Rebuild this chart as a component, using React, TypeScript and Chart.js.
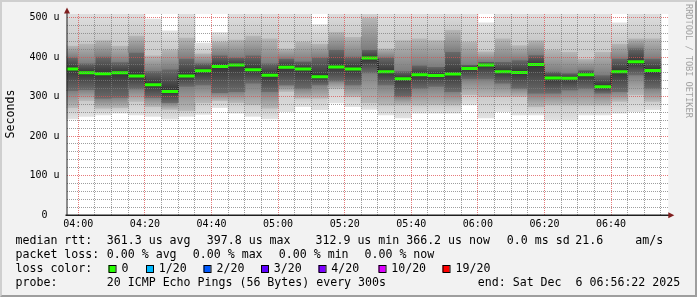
import React, { useEffect, useRef } from "react";
import { Chart, registerables } from "chart.js";

Chart.register(...registerables);

// ---- data ----
const slotStarts = [
  "03:55", "04:00", "04:05", "04:10", "04:15", "04:20", "04:25", "04:30", "04:35",
  "04:40", "04:45", "04:50", "04:55", "05:00", "05:05", "05:10", "05:15", "05:20",
  "05:25", "05:30", "05:35", "05:40", "05:45", "05:50", "05:55", "06:00", "06:05",
  "06:10", "06:15", "06:20", "06:25", "06:30", "06:35", "06:40", "06:45", "06:50",
];
const medianRtt = [
  370, 360, 358, 360, 352, 330, 313, 352, 365, 376, 380, 368, 354, 374, 370, 350, 375, 370,
  397.8, 363, 345, 355, 353, 357, 371, 380, 363, 361, 381, 347, 346, 355, 325, 363, 388, 366.2,
];
const pingMin = [
  244, 250, 254, 258, 254, 250, 243, 250, 255, 272, 258, 250, 244, 262, 275, 267, 284, 275,
  268, 254, 246, 258, 258, 258, 279, 246, 262, 254, 254, 241, 241, 254, 254, 258, 262, 267,
];
const pingLow2 = [
  272, 290, 271, 272, 288, 275, 268, 265, 285, 290, 285, 280, 271, 313, 296, 296, 321, 300,
  285, 279, 279, 279, 280, 279, 305, 300, 300, 300, 275, 279, 279, 279, 279, 288, 305, 288,
];
const pingLow1 = [
  315, 318, 296, 298, 320, 298, 285, 326, 330, 310, 313, 334, 313, 330, 321, 330, 340, 330,
  360, 330, 300, 321, 326, 313, 345, 345, 334, 321, 309, 309, 317, 321, 309, 313, 355, 321,
];
const pingHigh1 = [
  400, 385, 402, 388, 412, 365, 370, 397, 385, 405, 400, 405, 385, 397, 390, 400, 420, 402,
  420, 400, 365, 380, 376, 414, 381, 389, 389, 393, 406, 364, 360, 368, 355, 397, 423, 397,
];
const pingHigh2 = [
  430, 435, 444, 430, 455, 405, 420, 450, 410, 440, 445, 455, 448, 423, 440, 435, 465, 452,
  500, 423, 444, 448, 444, 470, 440, 415, 448, 431, 444, 419, 414, 397, 414, 435, 448, 448,
];
const pingMax = [
  520, 520, 520, 520, 520, 496, 466, 520, 435, 462, 520, 520, 520, 520, 520, 482, 520, 520,
  520, 520, 520, 520, 520, 520, 520, 486, 520, 520, 520, 520, 520, 520, 520, 486, 520, 520,
];
const yTickValues = [0, 100, 200, 300, 400, 500];
const xTickLabels = ["04:00", "04:20", "04:40", "05:00", "05:20", "05:40", "06:00", "06:20", "06:40"];
const lossLabels = ["0", "1/20", "2/20", "3/20", "4/20", "10/20", "19/20"];
const lossColors = ["#26ff00", "#00b8ff", "#0059ff", "#5e00ff", "#7e00ff", "#dd00ff", "#ff0000"];

// ---- look ----
const W = 697;
const H = 297;
const MONO = "DejaVu Sans Mono";
const GRID_MINOR = "rgba(125,125,125,0.75)";
const GRID_MAJOR = "rgba(222,79,79,0.75)";

const toMin = (s: string) => {
  const [h, m] = s.split(":").map(Number);
  return (h - 4) * 60 + m;
};
const fmt = (v: number) => {
  const r = Math.round(v);
  const h = 4 + Math.floor(r / 60);
  const m = ((r % 60) + 60) % 60;
  return String(h).padStart(2, "0") + ":" + String(m).padStart(2, "0");
};

const X_TICKS: number[] = [];
for (let v = 0; v <= 175; v += 5) X_TICKS.push(v);
const Y_TICKS: number[] = [];
for (let v = 0; v <= 500; v += 20) Y_TICKS.push(v);

// vertical gradient fill for a floating bar; stops run bottom (0) -> top (1)
const gradFill = (stopsFor: (i: number, lo: number, hi: number) => [number, string][]) => (c: any) => {
  const fallback = stopsFor(0, 0, 1)[0][1];
  if (c.type !== "data" || !c.raw) return fallback;
  const ys = c.chart.scales.y;
  if (!ys) return fallback;
  const [lo, hi] = c.raw.y;
  const p0 = ys.getPixelForValue(lo);
  const p1 = ys.getPixelForValue(hi);
  if (!isFinite(p0) || !isFinite(p1) || Math.abs(p0 - p1) < 0.01) return fallback;
  const g = c.chart.ctx.createLinearGradient(0, p0, 0, p1);
  stopsFor(c.dataIndex, lo, hi).forEach(([p, col]) => g.addColorStop(Math.min(1, Math.max(0, p)), col));
  return g;
};

const rrdPlugin = {
  id: "rrdFrame",
  beforeDraw(chart: any) {
    const ctx = chart.ctx;
    const { left, top, right, bottom } = chart.chartArea;
    ctx.save();
    ctx.fillStyle = "#f2f2f2";
    ctx.fillRect(0, 0, W, H);
    ctx.fillStyle = "#cfcfcf";
    ctx.fillRect(0, 0, W, 2);
    ctx.fillRect(0, 0, 2, H);
    ctx.fillStyle = "#9e9e9e";
    ctx.beginPath();
    ctx.moveTo(W, 0);
    ctx.lineTo(W, H);
    ctx.lineTo(0, H);
    ctx.lineTo(2, H - 2);
    ctx.lineTo(W - 2, H - 2);
    ctx.lineTo(W - 2, 2);
    ctx.closePath();
    ctx.fill();
    ctx.fillStyle = "#ffffff";
    ctx.fillRect(left, top, right - left, bottom - top);
    ctx.restore();
  },
  afterDatasetsDraw(chart: any) {
    const ctx = chart.ctx;
    const { left, top, right, bottom } = chart.chartArea;
    const xs = chart.scales.x;
    const ys = chart.scales.y;
    const x0 = Math.ceil(left);
    const x1 = Math.floor(right);
    const y0 = Math.ceil(top);
    const y1 = Math.floor(bottom);
    ctx.save();
    for (const major of [false, true]) {
      ctx.fillStyle = major ? GRID_MAJOR : GRID_MINOR;
      for (const v of Y_TICKS) {
        if (v === 0 || yTickValues.includes(v) !== major) continue;
        const py = Math.floor(ys.getPixelForValue(v));
        for (let px = x0; px < x1; px += 2) ctx.fillRect(px, py, 1, 1);
      }
      for (const v of X_TICKS) {
        if (xTickLabels.includes(fmt(v)) !== major) continue;
        const px = Math.floor(xs.getPixelForValue(v));
        if (px < left || px > right) continue;
        for (let py = y0; py < y1; py += 2) ctx.fillRect(px, py, 1, 1);
      }
    }
    ctx.restore();
  },
  afterDraw(chart: any) {
    const ctx = chart.ctx;
    const { left, top, right, bottom } = chart.chartArea;
    ctx.save();
    // axes
    ctx.strokeStyle = "#1f1f1f";
    ctx.lineWidth = 1;
    ctx.beginPath();
    ctx.moveTo(67, bottom);
    ctx.lineTo(67, top - 1);
    ctx.stroke();
    ctx.lineWidth = 1.6;
    ctx.beginPath();
    ctx.moveTo(left - 1, 215.3);
    ctx.lineTo(right + 2, 215.3);
    ctx.stroke();
    // arrows
    ctx.fillStyle = "#801f1f";
    ctx.beginPath();
    ctx.moveTo(64, 13.5);
    ctx.lineTo(70, 13.5);
    ctx.lineTo(67, 7.5);
    ctx.closePath();
    ctx.fill();
    ctx.beginPath();
    ctx.moveTo(right, 212.3);
    ctx.lineTo(right, 218.3);
    ctx.lineTo(right + 6, 215.3);
    ctx.closePath();
    ctx.fill();

    // y title
    ctx.fillStyle = "#000";
    ctx.font = `11.6px "${MONO}"`;
    ctx.save();
    ctx.translate(11, 114);
    ctx.rotate(-Math.PI / 2);
    ctx.textAlign = "center";
    ctx.textBaseline = "middle";
    ctx.fillText("Seconds", 0, 0);
    ctx.restore();

    // watermark
    ctx.save();
    ctx.translate(688.5, 4);
    ctx.rotate(Math.PI / 2);
    ctx.textAlign = "left";
    ctx.textBaseline = "middle";
    ctx.fillStyle = "rgba(0,0,0,0.35)";
    ctx.font = `8.6px "${MONO}"`;
    ctx.fillText("RRDTOOL / TOBI OETIKER", 0, 0);
    ctx.restore();

    // legend rows
    ctx.fillStyle = "#000";
    ctx.font = `11.6px "${MONO}"`;
    ctx.textAlign = "left";
    ctx.textBaseline = "middle";
    const rows: [number, number, string][] = [
      [241, 15.5, "median rtt:"],
      [241, 106.8, "361.3 us avg"],
      [241, 206.8, "397.8 us max"],
      [241, 315.5, "312.9 us min"],
      [241, 406.2, "366.2 us now"],
      [241, 506.8, "0.0 ms sd"],
      [241, 575.2, "21.6"],
      [241, 635.2, "am/s"],
      [255, 15.5, "packet loss:"],
      [255, 106.8, "0.00 % avg"],
      [255, 192.8, "0.00 % max"],
      [255, 278.8, "0.00 % min"],
      [255, 364.5, "0.00 % now"],
      [269, 15.5, "loss color:"],
      [283.3, 15.5, "probe:"],
      [283.3, 106.8, "20 ICMP Echo Pings (56 Bytes) every 300s"],
      [283.3, 477.8, "end: Sat Dec  6 06:56:22 2025"],
    ];
    rows.forEach(([y, x, t]) => ctx.fillText(t, x, y));
    const sqX = [108.5, 146, 203.5, 261, 318.5, 378.5, 442.5];
    const lbX = [121.5, 158.8, 216.5, 273.8, 331.2, 391.2, 455.5];
    lossLabels.forEach((lab, i) => {
      ctx.fillStyle = lossColors[i];
      ctx.fillRect(sqX[i], 265, 7, 7);
      ctx.strokeStyle = "#000";
      ctx.lineWidth = 1;
      ctx.strokeRect(sqX[i] + 0.5, 265.5, 7, 7);
      ctx.fillStyle = "#000";
      ctx.fillText(lab, lbX[i], 269);
    });
    ctx.restore();
  },
};

export default function App() {
  const ref = useRef<HTMLCanvasElement>(null);
  useEffect(() => {
    const canvas = ref.current;
    if (!canvas) return;
    const xs = slotStarts.map((s) => toMin(s) + 2.5);
    const band = (lo: number[], hi: number[]) => xs.map((x, i) => ({ x, y: [lo[i], hi[i]] }));
    const barBase: any = {
      type: "bar",
      grouped: false,
      barPercentage: 1,
      categoryPercentage: 1,
      borderWidth: 0,
      inflateAmount: 0.5,
    };
    const medLo = medianRtt.map((m) => m - 3.8);
    const medHi = medianRtt.map((m) => m + 3.8);

    const outerLow = gradFill(() => [[0, "#e2e2e2"], [1, "#c9c9c9"]]);
    const midLow = gradFill(() => [[0, "#b8b8b8"], [1, "#7e7e7e"]]);
    const core = gradFill((i, lo, hi) => [
      [0, "#6a6a6a"],
      [(medianRtt[i] - lo) / (hi - lo), "#343434"],
      [1, "#6a6a6a"],
    ]);
    const midHigh = gradFill(() => [[0, "#7e7e7e"], [1, "#b8b8b8"]]);
    const outerHigh = gradFill(() => [[0, "#c9c9c9"], [1, "#e2e2e2"]]);

    const chart = new Chart(canvas, {
      data: {
        datasets: [
          { ...barBase, label: "min", data: band(pingMin, pingLow2), backgroundColor: outerLow, order: 10 },
          { ...barBase, label: "low", data: band(pingLow2, pingLow1), backgroundColor: midLow, order: 9 },
          { ...barBase, label: "core", data: band(pingLow1, pingHigh1), backgroundColor: core, order: 8 },
          { ...barBase, label: "high", data: band(pingHigh1, pingHigh2), backgroundColor: midHigh, order: 7 },
          { ...barBase, label: "max", data: band(pingHigh2, pingMax), backgroundColor: outerHigh, order: 6 },
          {
            type: "line",
            label: "step",
            data: xs.map((x, i) => ({ x, y: medianRtt[i] })),
            stepped: "middle",
            borderColor: "#000",
            borderWidth: 1,
            borderDash: [1, 1],
            pointRadius: 0,
            order: 2,
          },
          { ...barBase, label: "median", data: band(medLo, medHi), backgroundColor: lossColors[0], inflateAmount: 0, order: 1 },
        ] as any,
      },
      options: {
        responsive: false,
        animation: false,
        devicePixelRatio: 1,
        layout: { padding: { left: 0, top: 14, right: 28.7, bottom: 0 } },
        plugins: { legend: { display: false }, tooltip: { enabled: false } },
        scales: {
          x: {
            type: "linear",
            min: -3.55,
            max: 177.2,
            offset: false,
            border: { display: false },
            afterBuildTicks: (s: any) => {
              s.ticks = X_TICKS.map((v) => ({ value: v }));
            },
            afterFit: (s: any) => {
              s.height = 82;
            },
            grid: { display: false, offset: false, drawTicks: false },
            ticks: {
              autoSkip: false,
              maxRotation: 0,
              padding: 3,
              color: "#000",
              font: { family: MONO, size: 10 },
              callback: (v: any) => (xTickLabels.includes(fmt(Number(v))) ? fmt(Number(v)) : ""),
            },
          },
          y: {
            type: "linear",
            min: 0,
            max: 509,
            border: { display: false },
            afterBuildTicks: (s: any) => {
              s.ticks = Y_TICKS.map((v) => ({ value: v }));
            },
            afterFit: (s: any) => {
              s.width = 66.5;
            },
            grid: { display: false, drawTicks: false },
            ticks: {
              autoSkip: false,
              padding: 7,
              color: "#000",
              font: { family: MONO, size: 10 },
              callback: (v: any) => {
                const n = Number(v);
                if (!yTickValues.includes(n)) return "";
                return n === 0 ? "0  " : `${n} u`;
              },
            },
          },
        },
      } as any,
      plugins: [rrdPlugin],
    });
    return () => chart.destroy();
  }, []);

  return (
    <div style={{ position: "fixed", left: 0, top: 0, width: W, height: H }}>
      <canvas ref={ref} width={W} height={H} style={{ display: "block", width: W, height: H }} />
    </div>
  );
}
